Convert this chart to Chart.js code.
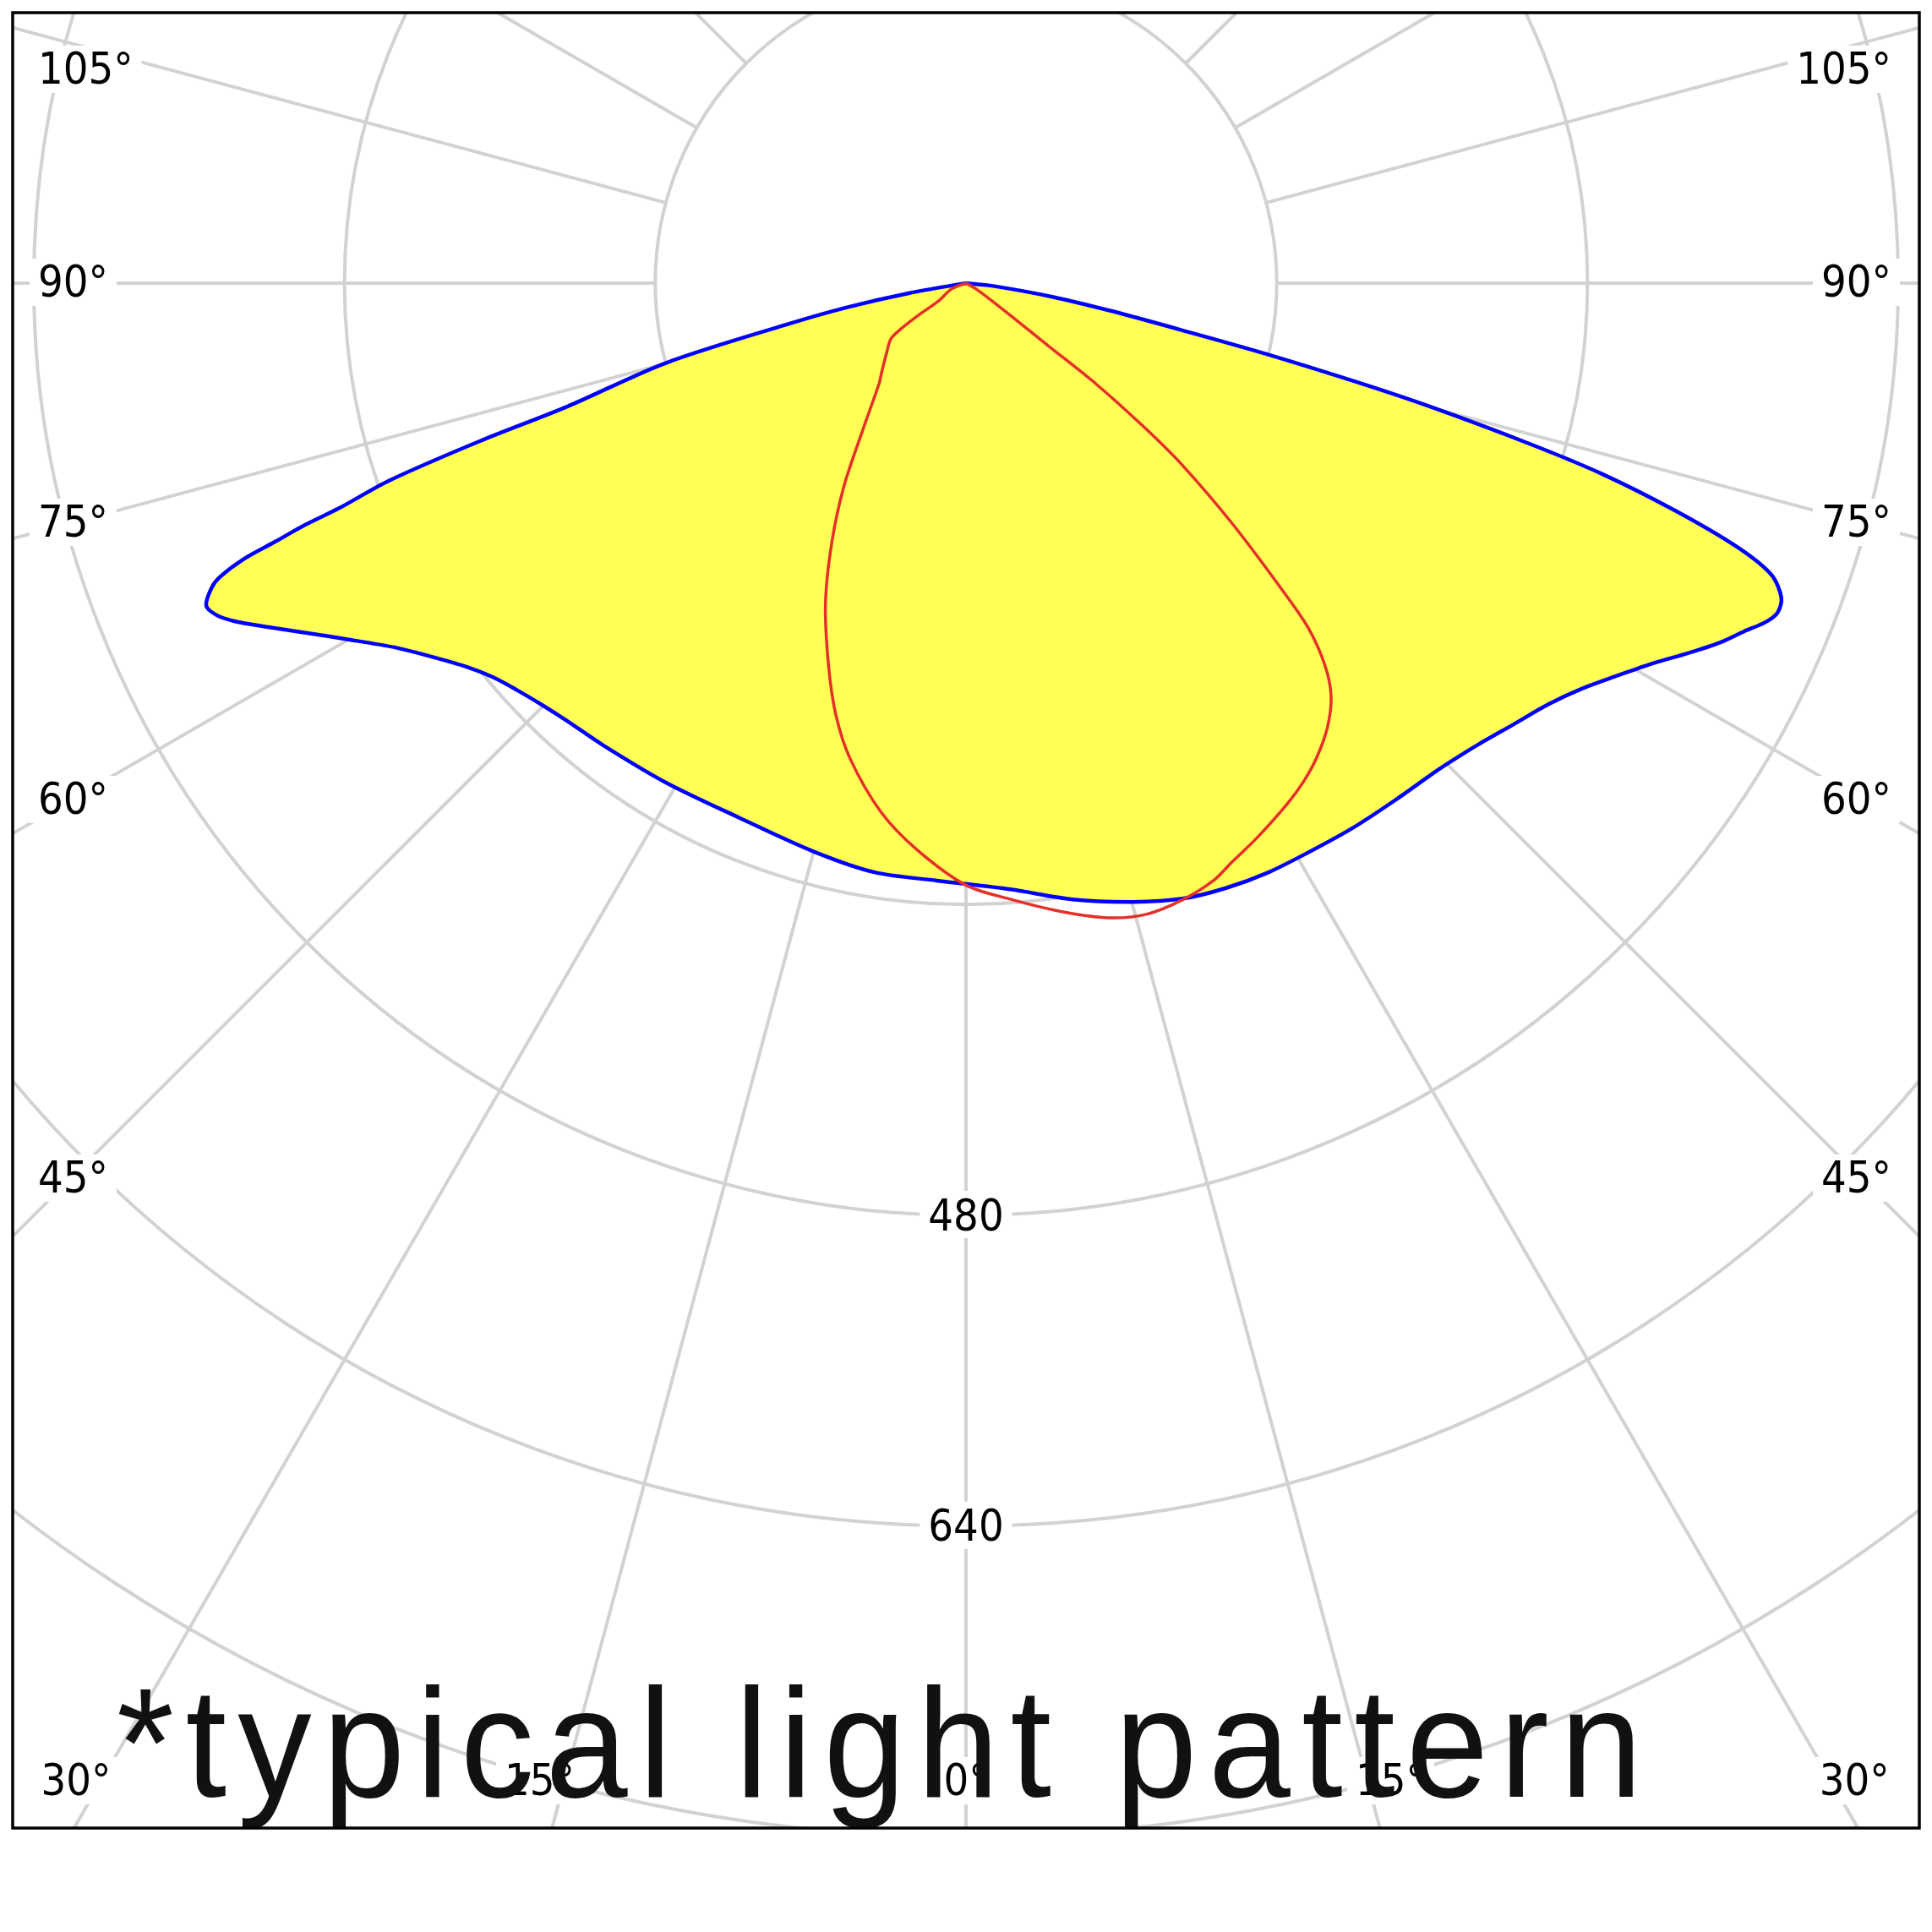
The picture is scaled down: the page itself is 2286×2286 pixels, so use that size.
<!DOCTYPE html>
<html>
<head>
<meta charset="utf-8">
<script src="https://cdn.jsdelivr.net/npm/chart.js@4.4.1/dist/chart.umd.min.js"></script>
<style>
html,body{margin:0;padding:0;background:#ffffff;}
#wrap{width:2286px;height:2286px;position:relative;}
</style>
</head>
<body>
<div id="wrap"><canvas id="c" width="2286" height="2286"></canvas></div>
<script>
// ---- data (angles in degrees from nadir, negative = left; values in cd/klm) ----
const ringValues = [160, 320, 480, 640, 800, 960];
const ringLabelValues = [480, 640];
const spokeAngles = [0,15,30,45,60,75,90,105,120,135,150,165,180,195,210,225,240,255,270,285,300,315,330,345];
const angleLabelAngles = [105, 90, 75, 60, 45, 30, 15, 0];
const titleText = '*typical light pattern';

const blueAngles = [-90,-80,-78.5,-77,-75.1,-72.8,-72,-71.1,-70.25,-69.9,-69.5,-69.1,-68.5,-68,-67,-66.1,-65.2,-64,-61.9,-60,-57.5,-55.5,-52.4,-50.2,-47.8,-45.2,-42.4,-38.1,-31,-23,-15,-8.8,-2.8,4.2,9.8,15.1,19.4,23.2,27.1,30.9,35.3,39.7,44,45.6,48,51.1,54.1,56.7,59,61,62.9,64.5,65.9,67,67.9,68.9,70.1,71.1,72.2,73.3,74.1,75.1,75.8,76.7,77.7,79.2,81,84,90];
const blueValues = [0,30,62,95,160,215,263,314,343,363,379,398,413,419,425,422,415,403,383,367,349,338,324,317,312,308,305,302.5,300,299,303,307,308,313,322,330,336,339,341,342,344,346,349,351,355,362,370,380,392,404,418,430,439,447,451,450,441,420,384,342,301,247,207,160,114,75,45,14,0];

const redAngles = [-90,-68,-57,-56,-55,-53.5,-49,-43,-41,-35,-31,-27.4,-23.7,-19.8,-16.8,-13.7,-9.1,-4.9,0,4.1,8.5,12.7,16,19.4,22.5,24.7,27.7,31.7,34.1,36.4,39.1,41.45,43.2,44.8,45.9,47.9,49.9,51,52.2,52.7,54.4,60,90];
const redValues = [0,8,17,30,40,48,54,64,68,93,122,150,180,209,232,252,276,293,310,318,327,335,338,336.5,333,328,322.5,315,310,304,295,284,270,250,226,185,146,119,85,53,24,6,0];

// ---- helpers ----
function toXY(angles, values) {
  return angles.map((a, i) => {
    const t = a * Math.PI / 180;
    return { x: values[i] * Math.sin(t), y: -values[i] * Math.cos(t) };
  });
}

const GRID = '#d2d2d2';
const LABEL_FONT = '52px "DejaVu Sans Condensed", "DejaVu Sans", sans-serif';

const PX_PER_UNIT = 2.298;
const CX = 1143, CY = 335;
const AREA = { left: 15, top: 15, right: 2271, bottom: 2163 };
const X_MIN = -(CX - AREA.left) / PX_PER_UNIT;
const X_MAX = (AREA.right - CX) / PX_PER_UNIT;
const Y_MAX = (CY - AREA.top) / PX_PER_UNIT;
const Y_MIN = -(AREA.bottom - CY) / PX_PER_UNIT;

function labelWithBackdrop(ctx, text, x, y, align, dy) {
  ctx.font = LABEL_FONT;
  const w = ctx.measureText(text).width;
  let left = x;
  if (align === 'center') left = x - w / 2;
  else if (align === 'right') left = x - w;
  ctx.fillStyle = '#ffffff';
  ctx.fillRect(left - 10, y - 29, w + 20, 56);
  ctx.fillStyle = '#000000';
  ctx.textAlign = align;
  ctx.textBaseline = 'middle';
  ctx.fillText(text, x, y + (dy || 0));
}

const polarGrid = {
  id: 'polarGrid',
  beforeDatasetsDraw(chart) {
    const { ctx, chartArea: a, scales: { x, y } } = chart;
    const cx = x.getPixelForValue(0), cy = y.getPixelForValue(0);
    const ppu = x.getPixelForValue(1) - cx;
    ctx.save();
    ctx.beginPath();
    ctx.rect(a.left, a.top, a.right - a.left, a.bottom - a.top);
    ctx.clip();
    ctx.strokeStyle = GRID;
    ctx.lineWidth = 4;
    ringValues.forEach(v => {
      ctx.beginPath();
      ctx.arc(cx, cy, v * ppu, 0, Math.PI * 2);
      ctx.stroke();
    });
    const inner = ringValues[0];
    const outer = 3000;
    spokeAngles.forEach(d => {
      const t = d * Math.PI / 180;
      ctx.beginPath();
      ctx.moveTo(x.getPixelForValue(inner * Math.sin(t)), y.getPixelForValue(-inner * Math.cos(t)));
      ctx.lineTo(x.getPixelForValue(outer * Math.sin(t)), y.getPixelForValue(-outer * Math.cos(t)));
      ctx.stroke();
    });
    // ring labels
    ringLabelValues.forEach(v => {
      labelWithBackdrop(ctx, String(v), cx, cy + v * ppu, 'center', 4);
    });
    // angle labels
    angleLabelAngles.forEach(d => {
      const sides = d === 0 ? [0] : [-1, 1];
      sides.forEach(sgn => {
        const t = d * Math.PI / 180;
        const s = Math.sin(t), c = Math.cos(t);
        const txt = d + '°';
        const edgeY = s > 1e-6 ? cy + ((cx - a.left) / s) * c : Infinity;
        if (edgeY <= a.bottom) {
          const xProbe = 68;
          let yy = cy + ((cx - a.left - xProbe) / s) * c;
          yy = Math.max(yy, a.top + 68);
          if (sgn < 0) labelWithBackdrop(ctx, txt, a.left + 30, yy, 'left', 2);
          else labelWithBackdrop(ctx, txt, a.right - 33, yy, 'right', 2);
        } else {
          const y0 = a.bottom - 55;
          const tt = (y0 - cy) / c;
          const xx = cx + sgn * tt * s;
          const align = sgn < 0 ? 'right' : (sgn > 0 ? 'left' : 'center');
          labelWithBackdrop(ctx, txt, xx + (sgn < 0 ? 12 : (sgn > 0 ? -14 : 0)), y0, align, 2);
        }
      });
    });
    ctx.restore();
  },
  afterDatasetsDraw(chart) {
    const { ctx, chartArea: a } = chart;
    ctx.save();
    // title
    ctx.font = '183px "Liberation Sans", Arial, sans-serif';
    try { ctx.letterSpacing = '14px'; } catch (e) {}
    const m = ctx.measureText(titleText);
    const inkLeft = -m.actualBoundingBoxLeft;
    const inkW = m.actualBoundingBoxRight + m.actualBoundingBoxLeft;
    const targetLeft = a.left + 125, targetRight = a.left + 1917;
    const sx = (targetRight - targetLeft) / inkW;
    ctx.translate(targetLeft, a.bottom - 37);
    ctx.scale(sx, 1);
    ctx.fillStyle = '#111111';
    ctx.textAlign = 'left';
    ctx.textBaseline = 'alphabetic';
    ctx.fillText(titleText, -inkLeft, 0);
    ctx.restore();
    // frame
    ctx.save();
    ctx.strokeStyle = '#000000';
    ctx.lineWidth = 3.5;
    ctx.strokeRect(a.left, a.top, a.right - a.left, a.bottom - a.top);
    ctx.restore();
  }
};

new Chart(document.getElementById('c').getContext('2d'), {
  type: 'scatter',
  data: {
    datasets: [
      {
        label: 'C0-C180',
        data: toXY(redAngles, redValues),
        showLine: true,
        borderColor: '#e5302a',
        borderWidth: 3.5,
        pointRadius: 0,
        fill: false,
        tension: 0.3,
        order: 0
      },
      {
        label: 'C90-C270',
        data: toXY(blueAngles, blueValues),
        showLine: true,
        borderColor: '#0000ff',
        borderWidth: 4.5,
        backgroundColor: '#ffff55',
        pointRadius: 0,
        fill: 'shape',
        tension: 0.3,
        order: 1
      }
    ]
  },
  options: {
    responsive: false,
    animation: false,
    events: [],
    layout: { padding: { left: AREA.left, top: AREA.top, right: 2286 - AREA.right, bottom: 2286 - AREA.bottom } },
    plugins: { legend: { display: false }, tooltip: { enabled: false } },
    scales: {
      x: { type: 'linear', min: X_MIN, max: X_MAX, display: false },
      y: { type: 'linear', min: Y_MIN, max: Y_MAX, display: false }
    }
  },
  plugins: [polarGrid]
});
</script>
</body>
</html>
